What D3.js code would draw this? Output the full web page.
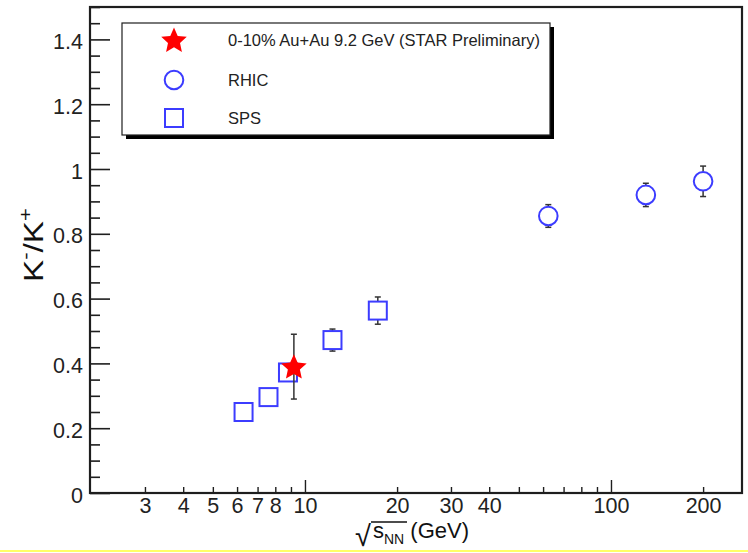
<!DOCTYPE html>
<html>
<head>
<meta charset="utf-8">
<script src="https://cdn.jsdelivr.net/npm/d3@7"></script>
<style>
  body { margin: 0; background: #fff; }
  svg { display: block; font-family: "Liberation Sans", Arial, sans-serif; }
</style>
</head>
<body>
<div id="chart"></div>
<script>
// --- data ---
const starEnergy = [9.2];
const starRatio = [0.39];
const starErr = [0.10];

const rhicEnergy = [62.4, 130, 200];
const rhicRatio = [0.855, 0.92, 0.962];
const rhicErr = [0.035, 0.036, 0.047];

const spsEnergy = [6.3, 7.6, 8.8, 12.3, 17.3];
const spsRatio = [0.25, 0.296, 0.372, 0.472, 0.563];
const spsErr = [0.01, 0.012, 0.015, 0.034, 0.042];

const xTicks = [3, 4, 5, 6, 7, 8, 9, 10, 20, 30, 40, 50, 60, 70, 80, 90, 100, 200];
const xLabels = [3, 4, 5, 6, 7, 8, 10, 20, 30, 40, 100, 200];
const xMajor = [10, 100];
const yMajor = [0, 0.2, 0.4, 0.6, 0.8, 1, 1.2, 1.4];
const yMinor = d3.range(1, 31).map(i => i * 0.05).filter(v => Math.abs(v / 0.2 - Math.round(v / 0.2)) > 1e-6);

const legendLabels = ["0-10% Au+Au 9.2 GeV (STAR Preliminary)", "RHIC", "SPS"];

const width = 748, height = 553;
const margin = { top: 7, right: 6, bottom: 60, left: 90 };

const blue = "#3c3cff", red = "#ff0000", ink = "#1e1e1e";

// chunkier star, closer to ROOT marker 29
const fatStar = {
  draw(context, size) {
    const r = Math.sqrt(size / 1.3), ri = r * 0.47;
    for (let i = 0; i < 10; i++) {
      const a = -Math.PI / 2 + i * Math.PI / 5;
      const rr = i % 2 ? ri : r;
      if (i === 0) context.moveTo(rr * Math.cos(a), rr * Math.sin(a));
      else context.lineTo(rr * Math.cos(a), rr * Math.sin(a));
    }
    context.closePath();
  }
};

const svg = d3.select("#chart").append("svg")
  .attr("width", width)
  .attr("height", height);

const x = d3.scaleLog()
  .domain([1.984, 268])
  .range([margin.left, width - margin.right]);

const y = d3.scaleLinear()
  .domain([0, 1.5])
  .range([height - margin.bottom, margin.top]);

// Y axis: major ticks with labels, minor ticks without
svg.append("g")
  .attr("transform", `translate(${margin.left},0)`)
  .call(d3.axisLeft(y).tickValues(yMajor).tickSizeInner(-20).tickSizeOuter(0).tickPadding(7)
    .tickFormat(d => d3.format("~g")(d)))
  .call(g => g.select(".domain").remove())
  .call(g => g.selectAll("line").attr("stroke", ink).attr("stroke-width", 1.6))
  .call(g => g.selectAll("text").attr("font-size", 21.5).attr("fill", "#222").attr("dy", "0.42em"));

svg.append("g")
  .attr("transform", `translate(${margin.left},0)`)
  .call(d3.axisLeft(y).tickValues(yMinor).tickSizeInner(-10).tickSizeOuter(0).tickFormat(""))
  .call(g => g.select(".domain").remove())
  .call(g => g.selectAll("line").attr("stroke", ink).attr("stroke-width", 1.6));

// X axis (log)
svg.append("g")
  .attr("transform", `translate(0,${height - margin.bottom})`)
  .call(d3.axisBottom(x).tickValues(xTicks).tickSizeInner(-6).tickSizeOuter(0).tickPadding(5)
    .tickFormat(d => xLabels.includes(d) ? d : ""))
  .call(g => g.select(".domain").remove())
  .call(g => g.selectAll("line").attr("stroke", ink).attr("stroke-width", 1.4)
    .attr("y2", d => xMajor.includes(d) ? -13 : -6))
  .call(g => g.selectAll("text").attr("font-size", 21.5).attr("fill", "#222"));

// frame
svg.append("rect")
  .attr("x", margin.left).attr("y", margin.top)
  .attr("width", width - margin.left - margin.right)
  .attr("height", height - margin.top - margin.bottom)
  .attr("fill", "none").attr("stroke", ink).attr("stroke-width", 2.2);

// error bars (drawn outside the marker, like ROOT does)
function errorBars(xs, ys, es, half) {
  const g = svg.append("g").attr("stroke", "#333").attr("stroke-width", 1.5);
  xs.forEach((e, i) => {
    const cx = x(e), cy = y(ys[i]);
    const top = y(ys[i] + es[i]), bot = y(ys[i] - es[i]);
    if (cy - top > half) {
      g.append("line").attr("x1", cx).attr("x2", cx).attr("y1", cy - half).attr("y2", top);
      g.append("line").attr("x1", cx - 3).attr("x2", cx + 3).attr("y1", top).attr("y2", top);
    }
    if (bot - cy > half) {
      g.append("line").attr("x1", cx).attr("x2", cx).attr("y1", cy + half).attr("y2", bot);
      g.append("line").attr("x1", cx - 3).attr("x2", cx + 3).attr("y1", bot).attr("y2", bot);
    }
  });
}

errorBars(spsEnergy, spsRatio, spsErr, 9);
errorBars(rhicEnergy, rhicRatio, rhicErr, 9.5);

// SPS squares
svg.append("g")
  .selectAll("rect")
  .data(spsEnergy)
  .join("rect")
  .attr("x", d => x(d) - 9)
  .attr("y", (d, i) => y(spsRatio[i]) - 9)
  .attr("width", 18).attr("height", 18)
  .attr("fill", "none").attr("stroke", blue).attr("stroke-width", 2);

// RHIC circles
svg.append("g")
  .selectAll("circle")
  .data(rhicEnergy)
  .join("circle")
  .attr("cx", d => x(d))
  .attr("cy", (d, i) => y(rhicRatio[i]))
  .attr("r", 9.3)
  .attr("fill", "none").attr("stroke", blue).attr("stroke-width", 2);

// STAR point
errorBars(starEnergy, starRatio, starErr, 0);
const star = d3.symbol(fatStar, 235);
svg.append("g")
  .selectAll("path")
  .data(starEnergy)
  .join("path")
  .attr("d", star)
  .attr("transform", (d, i) => `translate(${x(d)},${y(starRatio[i]) + 1})`)
  .attr("fill", red);

// axis titles
const yTitle = svg.append("text")
  .attr("transform", "translate(43,245) rotate(-90)")
  .attr("text-anchor", "middle")
  .attr("font-size", 27)
  .attr("fill", "#111")
  .attr("textLength", 74)
  .attr("lengthAdjust", "spacingAndGlyphs");
yTitle.append("tspan").text("K");
yTitle.append("tspan").text("-").attr("font-size", 18).attr("dy", -11);
yTitle.append("tspan").text("/K").attr("dy", 11);
yTitle.append("tspan").text("+").attr("font-size", 18).attr("dy", -11);

const xTitle = svg.append("g").attr("fill", "#111");
xTitle.append("text").attr("x", 355).attr("y", 546).attr("font-size", 29).text("√");
xTitle.append("line").attr("x1", 371).attr("x2", 407).attr("y1", 522).attr("y2", 522)
  .attr("stroke", "#111").attr("stroke-width", 1.4);
const xt = xTitle.append("text").attr("x", 373).attr("y", 538).attr("font-size", 22);
xt.append("tspan").text("s");
xt.append("tspan").text("NN").attr("font-size", 14).attr("dy", 6);
xt.append("tspan").text(" (GeV)").attr("dy", -6);

// legend
const lg = svg.append("g");
lg.append("rect").attr("x", 126).attr("y", 27).attr("width", 428).attr("height", 112).attr("fill", "#000");
lg.append("rect").attr("x", 122).attr("y", 23).attr("width", 428).attr("height", 112)
  .attr("fill", "#fff").attr("stroke", ink).attr("stroke-width", 1.2);

const rowY = [40, 80, 118];
lg.append("path").attr("d", star).attr("transform", `translate(174,${rowY[0] + 1})`).attr("fill", red);
lg.append("circle").attr("cx", 174).attr("cy", rowY[1]).attr("r", 9.3)
  .attr("fill", "none").attr("stroke", blue).attr("stroke-width", 2);
lg.append("rect").attr("x", 165).attr("y", rowY[2] - 9).attr("width", 18).attr("height", 18)
  .attr("fill", "none").attr("stroke", blue).attr("stroke-width", 2);

lg.selectAll("text.lab")
  .data(legendLabels)
  .join("text")
  .attr("class", "lab")
  .attr("x", 228)
  .attr("y", (d, i) => rowY[i])
  .attr("dy", "0.36em")
  .attr("font-size", 16.5)
  .attr("fill", "#222")
  .text(d => d);

// thin yellow strip along the bottom edge
svg.append("rect").attr("x", 0).attr("y", 550).attr("width", width).attr("height", 2).attr("fill", "#ffff66");
</script>
</body>
</html>
